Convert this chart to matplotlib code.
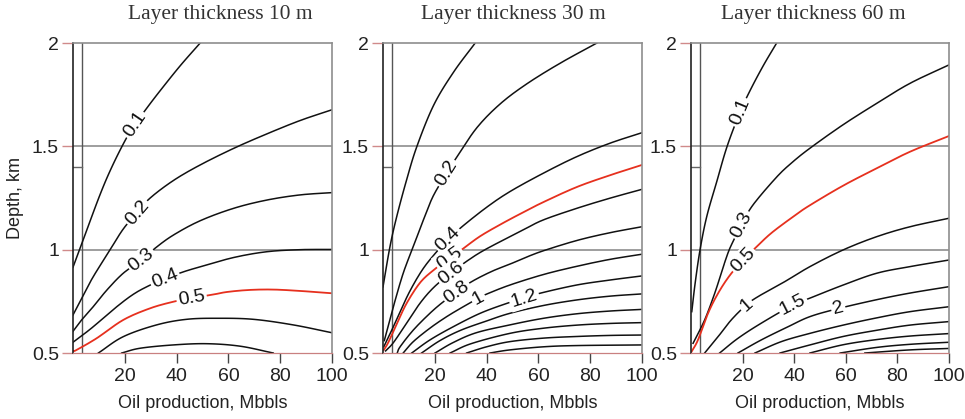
"""Contour panels: depth vs oil production for three layer thicknesses"""
import numpy as np
import matplotlib

matplotlib.use("Agg")
import matplotlib.pyplot as plt

# Panel titles and contour polylines (x = oil production Mbbls, d = depth km)
titles = ["Layer thickness 10 m", "Layer thickness 30 m", "Layer thickness 60 m"]
red_level = "0.5"

lines_10m = [
    ("0.1", [0, 4, 10.4, 15, 20.2, 23.9, 28.5, 33.7, 41.4, 49.1],
     [0.915, 1.05, 1.265, 1.4, 1.53, 1.605, 1.685, 1.77, 1.89, 2.0]),
    ("0.2", [0, 4, 7.8, 14.3, 19.4, 24.8, 29.8, 38.8, 49.1, 62, 74.8, 87.7, 100],
     [0.684, 0.78, 0.869, 0.999, 1.10, 1.18, 1.25, 1.335, 1.41, 1.49, 1.56, 1.625, 1.677]),
    ("0.3", [0, 3, 7.8, 13.1, 19.4, 26.5, 32, 38.8, 49.1, 62, 74.8, 87.7, 100],
     [0.605, 0.655, 0.724, 0.805, 0.886, 0.95, 1.01, 1.071, 1.14, 1.2, 1.24, 1.265, 1.276]),
    ("0.4", [0, 3, 7.8, 16.9, 23.4, 29.2, 35.5, 42.7, 49.1, 62, 74.8, 87.7, 100],
     [0.552, 0.58, 0.627, 0.724, 0.785, 0.825, 0.86, 0.893, 0.917, 0.962, 0.99, 1.0, 1.001]),
    ("0.5", [0.3, 1.4, 9.1, 19.4, 29.7, 38.7, 45.8, 53.5, 59.3, 68, 77.3, 88, 100],
     [0.51, 0.515, 0.571, 0.66, 0.716, 0.748, 0.765, 0.781, 0.795, 0.805, 0.807, 0.80, 0.789]),
    ("", [9.8, 19.4, 32.3, 43.9, 56, 69.6, 85, 100],
     [0.5, 0.579, 0.636, 0.663, 0.668, 0.663, 0.636, 0.598]),
    ("", [18.8, 25.9, 38.7, 51.6, 64.5, 77.3],
     [0.5, 0.523, 0.539, 0.545, 0.533, 0.5]),
]

lines_30m = [
    ("", [0, 2.7, 5.3, 9.1, 13.1, 19.6, 27.3, 35.6],
     [0.82, 1.015, 1.16, 1.337, 1.5, 1.7, 1.86, 2.0]),
    ("0.2", [0.5, 4.0, 7.8, 11.7, 15.6, 19.4, 24.6, 28.6, 36.3, 45.3, 55.6, 68.5, 82.6],
     [0.56, 0.724, 0.886, 1.015, 1.144, 1.26, 1.37, 1.45, 1.591, 1.706, 1.803, 1.903, 2.0]),
    ("0.4", [0.3, 3, 5.9, 10.4, 15.6, 21.4, 25.2, 30.4, 40, 49, 61.9, 74.8, 87.6, 100],
     [0.53, 0.6, 0.68, 0.80, 0.91, 1.0, 1.05, 1.11, 1.205, 1.281, 1.37, 1.45, 1.515, 1.566]),
    ("0.5", [0.3, 2, 5.3, 9.1, 14.3, 19.4, 25.2, 30.4, 37.5, 46.5, 54.8, 61.9, 74.8, 87.6, 100],
     [0.515, 0.55, 0.64, 0.74, 0.84, 0.9, 0.955, 1.0, 1.065, 1.13, 1.185, 1.23, 1.303, 1.36, 1.41]),
    ("0.6", [1, 4, 9.1, 14.3, 19.4, 25.9, 33.6, 39.4, 49, 54.8, 61.9, 74.8, 87.6, 100],
     [0.51, 0.55, 0.644, 0.741, 0.815, 0.885, 0.955, 1.0, 1.063, 1.1, 1.144, 1.2, 1.249, 1.292]),
    ("0.8", [5.5, 6.6, 11.7, 18.1, 23.3, 28.5, 34.2, 42, 49, 55, 62, 75, 87.6, 100],
     [0.5, 0.53, 0.611, 0.692, 0.748, 0.795, 0.845, 0.895, 0.93, 0.962, 0.995, 1.045, 1.082, 1.111]),
    ("1", [7.8, 11.7, 18.1, 24.6, 31, 36.8, 40, 49, 62, 75, 87.6, 100],
     [0.5, 0.555, 0.62, 0.676, 0.724, 0.765, 0.785, 0.829, 0.88, 0.92, 0.953, 0.978]),
    ("1.2", [11.1, 18.1, 27.1, 37.5, 47.8, 54.5, 60.6, 74.8, 87.6, 100],
     [0.5, 0.563, 0.627, 0.692, 0.74, 0.765, 0.789, 0.829, 0.853, 0.873]),
    ("", [14.9, 22, 30, 40, 49, 62, 75, 87.6, 100],
     [0.5, 0.56, 0.61, 0.655, 0.692, 0.73, 0.757, 0.775, 0.786]),
    ("", [20.1, 27, 36, 49, 62, 75, 87.6, 100],
     [0.5, 0.55, 0.598, 0.636, 0.668, 0.69, 0.703, 0.711]),
    ("", [25.9, 34, 49, 62, 75, 87.6, 100],
     [0.5, 0.545, 0.595, 0.62, 0.635, 0.643, 0.647]),
    ("", [32.3, 40, 49, 62, 75, 87.6, 100],
     [0.5, 0.53, 0.555, 0.572, 0.58, 0.585, 0.587]),
    ("", [41.3, 49, 62, 75, 100],
     [0.5, 0.515, 0.53, 0.536, 0.539]),
]

lines_60m = [
    ("0.1", [0.3, 1.6, 3.5, 6.1, 10, 14, 19, 22.9, 28, 33.2],
     [0.70, 0.837, 0.999, 1.16, 1.33, 1.5, 1.665, 1.77, 1.89, 2.0]),
    ("0.3", [0.8, 5.3, 9.2, 11.7, 14.3, 16.3, 19.5, 24, 33.1, 39, 46, 59, 72, 84.9, 100],
     [0.547, 0.66, 0.789, 0.886, 0.983, 1.04, 1.12, 1.216, 1.35, 1.42, 1.49, 1.605, 1.708, 1.805, 1.894]),
    ("0.5", [0.2, 2.7, 6.6, 10.5, 15, 20.2, 24.7, 31.1, 40.2, 46.1, 59, 72, 84.9, 100],
     [0.506, 0.563, 0.692, 0.789, 0.875, 0.95, 1.005, 1.08, 1.165, 1.215, 1.31, 1.394, 1.474, 1.55]),
    ("1", [5.3, 10.5, 15.6, 21.4, 26, 36.3, 46.1, 59, 72, 84.9, 100],
     [0.5, 0.579, 0.66, 0.732, 0.773, 0.845, 0.918, 0.999, 1.063, 1.111, 1.152]),
    ("1.5", [11.1, 18.2, 27.2, 39.5, 46.6, 59, 72, 84.9, 100],
     [0.5, 0.571, 0.644, 0.732, 0.768, 0.829, 0.886, 0.918, 0.95]),
    ("2", [18.2, 27.2, 37.6, 46.1, 57.1, 72, 84.9, 100],
     [0.5, 0.563, 0.627, 0.676, 0.715, 0.758, 0.79, 0.821]),
    ("", [24.8, 35, 46.1, 59, 72, 84.9, 100],
     [0.5, 0.555, 0.595, 0.635, 0.67, 0.7, 0.724]),
    ("", [34.5, 46.1, 59, 72, 84.9, 100],
     [0.5, 0.539, 0.58, 0.61, 0.635, 0.652]),
    ("", [46.1, 59, 72, 84.9, 100],
     [0.5, 0.54, 0.565, 0.582, 0.594]),
    ("", [57.8, 72, 84.9, 100],
     [0.5, 0.527, 0.542, 0.552]),
    ("", [67.4, 84.9, 100],
     [0.5, 0.515, 0.522]),
]

# where along x each inline label sits
label_x_10m = {"0.1": 23.9, "0.2": 24.8, "0.3": 26.5, "0.4": 35.5, "0.5": 45.8}
label_x_30m = {"0.2": 24.6, "0.4": 25.2, "0.5": 25.6, "0.6": 26.2, "0.8": 28.5, "1": 36.8, "1.2": 54.5}
label_x_60m = {"0.1": 19.0, "0.3": 19.5, "0.5": 20.2, "1": 21.4, "1.5": 39.5, "2": 57.1}

x_ticks = [20, 40, 60, 80, 100]
y_ticks = [0.5, 1, 1.5, 2]
y_ticklabels = ["0.5", "1", "1.5", "2"]
grid_depths = [1.0, 1.5]
well_x = 3.6          # the thin vertical "well" line
well_mark_depth = 1.4  # little horizontal tick on the well


def smooth(xs, ys, n=14):
    """Catmull-Rom densify so the polylines look like contour curves."""
    pts = np.column_stack([xs, ys]).astype(float)
    if len(pts) < 3:
        return pts[:, 0], pts[:, 1]
    p = np.vstack([2 * pts[0] - pts[1], pts, 2 * pts[-1] - pts[-2]])
    t = np.linspace(0, 1, n, endpoint=False)[:, None]
    out = []
    for i in range(1, len(p) - 2):
        p0, p1, p2, p3 = p[i - 1], p[i], p[i + 1], p[i + 2]
        seg = 0.5 * (2 * p1 + (-p0 + p2) * t + (2 * p0 - 5 * p1 + 4 * p2 - p3) * t ** 2
                     + (-p0 + 3 * p1 - 3 * p2 + p3) * t ** 3)
        out.append(seg)
    out.append(pts[-1:])
    s = np.vstack(out)
    return s[:, 0], s[:, 1]


SANS = "Liberation Sans"
fig = plt.figure(figsize=(9.65, 4.19), dpi=100)
W, H = 965, 419
boxes = [(73, 259), (383, 259), (691, 258)]
top_px, bot_px = 43, 353
title_px = [220, 513, 813]

panels = [(lines_10m, label_x_10m), (lines_30m, label_x_30m), (lines_60m, label_x_60m)]

for k, ((lines, label_x), (left, width)) in enumerate(zip(panels, boxes)):
    ax = fig.add_axes([left / W, (H - bot_px) / H, width / W, (bot_px - top_px) / H])
    ax.set_xlim(0, 100)
    ax.set_ylim(0.5, 2)

    for g in grid_depths:
        ax.axhline(g, color="#8e8e8e", lw=1.2, zorder=1)
    ax.axvline(well_x, color="#555555", lw=1.0, zorder=1)
    ax.plot([0, well_x], [well_mark_depth, well_mark_depth], color="#666666", lw=1.0, zorder=1)

    for lab, xs, ds in lines:
        sx, sy = smooth(xs, ds)
        col = "#e6301e" if lab == red_level else "#111111"
        ax.plot(sx, sy, color=col, lw=1.1 if lab != red_level else 1.3, zorder=2)

    fig.canvas.draw()
    for lab, xs, ds in lines:
        if lab not in label_x:
            continue
        sx, sy = smooth(xs, ds)
        lx = label_x[lab]
        ly = np.interp(lx, sx, sy)
        a = ax.transData.transform([[lx - 1.5, np.interp(lx - 1.5, sx, sy)],
                                    [lx + 1.5, np.interp(lx + 1.5, sx, sy)]])
        ang = np.degrees(np.arctan2(a[1, 1] - a[0, 1], a[1, 0] - a[0, 0]))
        ax.text(lx, ly, lab, rotation=ang, rotation_mode="anchor", ha="center", va="center",
                fontsize=14, family=SANS, color="#111111", zorder=3,
                bbox=dict(facecolor="white", edgecolor="none", pad=1.2))

    ax.set_xticks(x_ticks)
    ax.set_xticklabels([str(v) for v in x_ticks])
    ax.set_yticks(y_ticks)
    ax.set_yticklabels(y_ticklabels)
    ax.tick_params(axis="x", direction="out", length=7, width=1.0, color="#444444", pad=4,
                   labelsize=14, labelcolor="#222222")
    ax.tick_params(axis="y", direction="out", length=8, width=1.0, color="#d08a8a", pad=2,
                   labelsize=14, labelcolor="#222222")
    for t in ax.get_xticklabels() + ax.get_yticklabels():
        t.set_family(SANS)

    ax.spines["left"].set_color("#222222")
    ax.spines["left"].set_linewidth(1.2)
    for s in ("top", "right"):
        ax.spines[s].set_color("#8e8e8e")
        ax.spines[s].set_linewidth(1.2)
    ax.spines["bottom"].set_color("#c98080")
    ax.spines["bottom"].set_linewidth(0.9)
    ax.spines["bottom"].set_linestyle((0, (2, 1)))

    ax.set_xlabel("Oil production, Mbbls", fontsize=13, family=SANS, color="#222222", labelpad=7)
    if k == 0:
        ax.set_ylabel("Depth, km", fontsize=13, family=SANS, color="#222222", labelpad=6)

    fig.text(title_px[k] / W, 1 - 15 / H, titles[k], ha="center", va="center",
             fontsize=15.5, family="Liberation Serif", color="#333333")

plt.savefig("out.png", dpi=100)
